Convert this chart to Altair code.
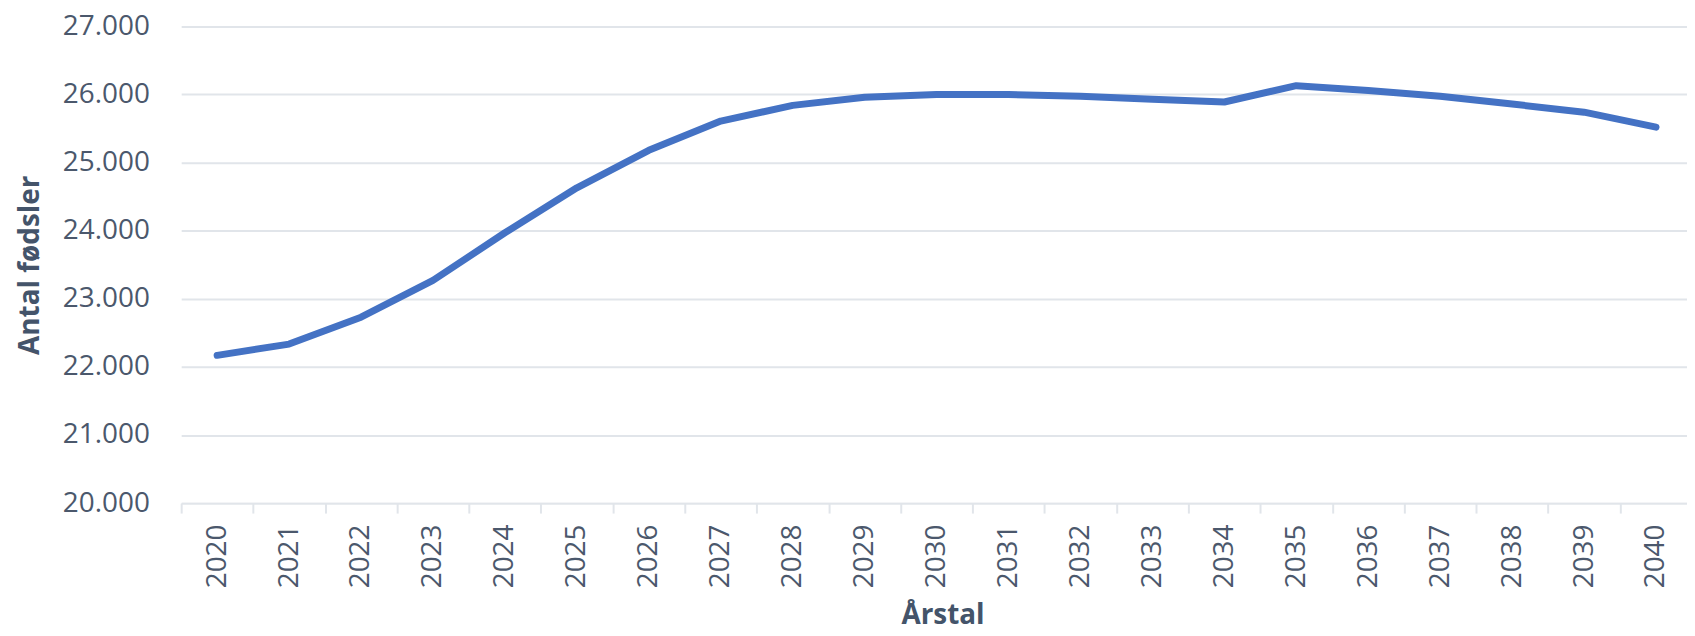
import altair as alt
import pandas as pd

years = [str(y) for y in range(2020, 2041)]
births = [22170, 22335, 22730, 23270, 23970, 24630, 25180, 25610, 25840, 25960,
          26000, 26000, 25975, 25930, 25890, 26130, 26060, 25975, 25860, 25740, 25520]
y_ticks = [20000, 21000, 22000, 23000, 24000, 25000, 26000, 27000]

df = pd.DataFrame({"year": years, "births": births})

text_color = "#4b586c"
title_color = "#44546a"
grid_color = "#e1e5ea"
font = "Open Sans"

chart = alt.Chart(df).mark_line(
    color="#4472C4", strokeWidth=7, strokeCap="round", strokeJoin="round"
).encode(
    x=alt.X(
        "year:N",
        sort=years,
        scale=alt.Scale(type="band", paddingInner=0, paddingOuter=0, range=[0, 1518]),
        axis=alt.Axis(
            title="Årstal",
            labelAngle=-90,
            labelFontSize=28,
            labelFont=font,
            labelColor=text_color,
            labelPadding=11,
            tickBand="extent",
            tickSize=10,
            tickWidth=2,
            tickColor=grid_color,
            domainColor=grid_color,
            domainWidth=2,
            grid=False,
            titleFont=font,
            titleFontSize=28,
            titleFontWeight="bold",
            titleColor=title_color,
            titleX=765,
            titleY=121,
            titleAlign="center",
            titleBaseline="alphabetic",
            titleAngle=0,
        ),
    ),
    y=alt.Y(
        "births:Q",
        scale=alt.Scale(domain=[20000, 27000], nice=False, zero=False),
        axis=alt.Axis(
            title="Antal fødsler",
            values=y_ticks,
            labelExpr="replace(format(datum.value, ','), ',', '.')",
            labelFontSize=28,
            labelFont=font,
            labelColor=text_color,
            labelPadding=32,
            ticks=False,
            tickSize=0,
            domain=False,
            grid=True,
            gridColor=grid_color,
            gridWidth=2,
            titleFont=font,
            titleFontSize=28,
            titleFontWeight="bold",
            titleColor=title_color,
            titleX=-143,
            titleY=239.5,
            titleAngle=-90,
            titleAlign="center",
            titleBaseline="alphabetic",
        ),
    ),
).properties(
    width=1505,
    height=479,
    autosize=alt.AutoSizeParams(type="none"),
    padding={"left": 174, "top": 17, "right": 8, "bottom": 128},
    background="white",
).configure_view(stroke=None)

chart.save("out.html", embed_options={"renderer": "svg", "actions": False})
